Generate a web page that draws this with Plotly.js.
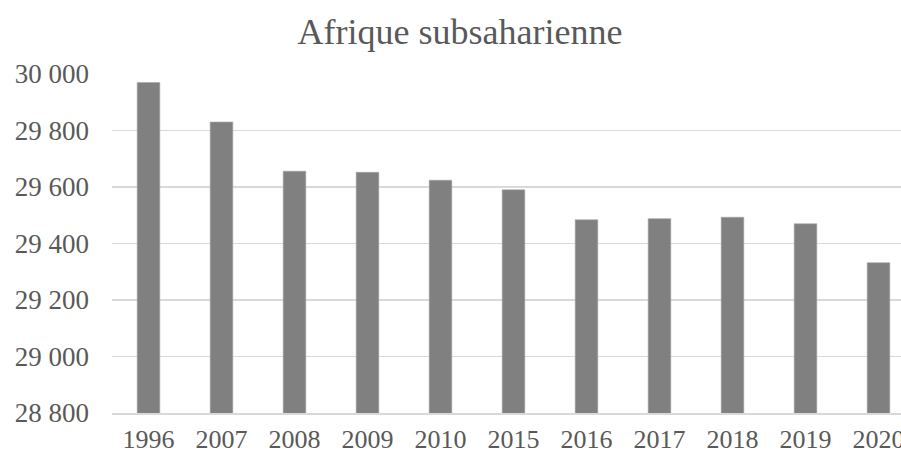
<!DOCTYPE html>
<html>
<head>
<meta charset="utf-8">
<script src="https://cdn.plot.ly/plotly-3.0.1.min.js"></script>
<style>
  html, body { margin: 0; padding: 0; overflow: hidden; background: #fff; }
</style>
</head>
<body>
<div id="chart"></div>
<script>
// years and values
var years = ["1996", "2007", "2008", "2009", "2010", "2015", "2016", "2017", "2018", "2019", "2020"];
var values = [29970, 29830, 29656, 29652, 29624, 29590, 29484, 29488, 29493, 29470, 29332];

var trace = {
  x: years,
  y: values,
  type: "bar",
  marker: { color: "#808080", line: { color: "#a6a6a6", width: 0.6 } },
  hoverinfo: "x+y"
};

var layout = {
  width: 920,
  height: 454,
  margin: { l: 112, r: 5, t: 74, b: 41 },
  paper_bgcolor: "#ffffff",
  plot_bgcolor: "#ffffff",
  separators: ", ",
  bargap: 0.69,
  font: { family: "Liberation Serif, Times New Roman, serif", color: "#595959", size: 27 },
  title: {
    text: "Afrique subsaharienne",
    font: { size: 36, color: "#595959" },
    x: 0.5, xanchor: "center",
    y: 1 - 31 / 454, yanchor: "middle"
  },
  xaxis: {
    type: "category",
    showgrid: false,
    showline: true,
    linecolor: "#d9d9d9",
    linewidth: 1.5,
    ticks: "",
    ticklabelstandoff: 2,
    tickfont: { size: 26 }
  },
  yaxis: {
    range: [28800, 30000],
    dtick: 200,
    tickformat: ",d",
    showgrid: true,
    gridcolor: "#d9d9d9",
    gridwidth: 1.5,
    zeroline: false,
    ticks: "",
    ticklabelstandoff: 22,
    tickfont: { size: 27 }
  },
  showlegend: false
};

Plotly.newPlot("chart", [trace], layout, { displayModeBar: false, staticPlot: true });
</script>
</body>
</html>
